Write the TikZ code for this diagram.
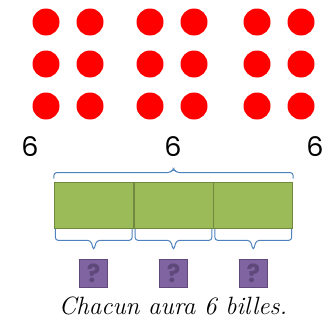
\documentclass[tikz,border=0pt]{standalone}
\usepackage{fontspec}
\newfontfamily\gothic{Poppins}
\usetikzlibrary{positioning}
\usetikzlibrary{calc}
\definecolor{marblered}{RGB}{255,0,0}
\definecolor{barfill}{RGB}{155,187,89}
\definecolor{bardraw}{RGB}{113,137,63}
\definecolor{bracecol}{RGB}{79,129,189}
\definecolor{boxfill}{RGB}{128,100,162}
\definecolor{boxdraw}{RGB}{95,73,122}
\tikzset{marble/.style={circle,fill=marblered,minimum size=27pt,inner sep=0pt}}
\tikzset{part/.style={draw=bardraw,fill=barfill,line width=0.8pt,
                      minimum width=79pt,minimum height=46pt,inner sep=0pt}}
\tikzset{curly/.style={draw=bracecol,
                       line width=1pt,
                       rounded corners=3pt}}
\tikzset{unknown/.style={draw=boxdraw,fill=boxfill,line width=0.8pt,
                         minimum size=28pt,inner sep=0pt,
                         text=boxdraw,font=\gothic\bfseries\fontsize{25}{25}\selectfont}}

\begin{document}
\begin{tikzpicture}
      [
      x=1pt,y=-1pt,
      count/.style={font=\gothic\fontsize{27}{27}\selectfont},
      ]
      \useasboundingbox (0,0) rectangle (331,324);

      % marbles
      \foreach \g/\gx in {1/46,2/150,3/257}
      \foreach \c in {0,1}
      \foreach \r/\ry in {1/22,2/64,3/106}
      {
      \node [marble] (M\g\c\r) at (\gx+\c*44,\ry) {};
      }

      % numbers
      \foreach \i/\x in {1/30,2/173,3/315}
      {
      \node [count] (N\i) at (\x,147) {6};
      }

      % bar
      \node [part] (S1) at (93.7,205) {};
      \node [part,right=0pt of S1] (S2) {};
      \node [part,right=0pt of S2] (S3) {};

      % braces
      \draw [curly] ([yshift=3pt]S1.north west) |- ([xshift=-3pt,yshift=9pt]S2.north)
      -- ([yshift=13pt]S2.north) -- ([xshift=3pt,yshift=9pt]S2.north) -| ([yshift=3pt]S3.north east);

      \foreach \i in {1,2,3}
      {
      \draw [curly] ([xshift=1.5pt,yshift=-0.5pt]S\i.south west) |- ([xshift=-3pt,yshift=-12pt]S\i.south)
      -- ([yshift=-22pt]S\i.south) -- ([xshift=3pt,yshift=-12pt]S\i.south) -| ([xshift=-1.5pt,yshift=-0.5pt]S\i.south east);
      \node [unknown,below=31pt of S\i.south] (Q\i) {?};
      }

      % sentence
      \node [font=\itshape\fontsize{25}{25}\selectfont]
      (T) at (173,306) {Chacun aura 6 billes.};

    \end{tikzpicture}
\end{document}
